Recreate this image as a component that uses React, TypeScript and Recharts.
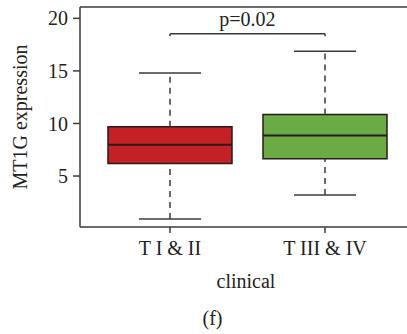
import {
  ComposedChart,
  XAxis,
  YAxis,
  Scatter,
  ReferenceArea,
  ReferenceLine,
} from 'recharts';

const groups = ['T I & II', 'T III & IV'];
const groupPos = [1, 2];
const lowerWhisker = [0.92, 3.2];
const q1 = [6.2, 6.64];
const median = [7.97, 8.86];
const q3 = [9.68, 10.85];
const upperWhisker = [14.8, 16.86];
const boxColors = ['#C42127', '#6AAB46'];
const yTicks = [5, 10, 15, 20];
const pLabel = 'p=0.02';
const bracketY = 18.54;

const Y_MIN = 0.15;
const Y_MAX = 21.08;
const BOX_HALF = 0.4;
const CAP_HALF = 0.2;
const FONT = '"Liberation Serif", "Times New Roman", serif';
const INK = '#3a3a3a';
const BOX_LINE = '#2a1a1a';

const points = groupPos.map((x, i) => ({ x, y: median[i] }));

export default function App() {
  return (
    <div
      style={{
        position: 'absolute',
        left: 0,
        top: 0,
        width: 407,
        height: 334,
        overflow: 'hidden',
        background: '#fff',
        fontFamily: FONT,
      }}
    >
      <ComposedChart
        width={420}
        height={334}
        margin={{ top: 7, right: 8, left: 0, bottom: 0 }}
        style={{ fontFamily: FONT }}
      >
        <XAxis
          dataKey="x"
          type="number"
          domain={[0.4194, 2.5613]}
          allowDataOverflow
          ticks={groupPos}
          tickFormatter={(v) => groups[v - 1]}
          height={107}
          tickSize={6}
          tickMargin={8}
          stroke={INK}
          strokeWidth={1.5}
          tick={{ fill: '#222', fontSize: 20, fontFamily: FONT }}
          label={{
            value: 'clinical',
            position: 'insideBottom',
            offset: 46,
            fill: '#222',
            fontSize: 20,
            fontFamily: FONT,
          }}
        />
        <YAxis
          dataKey="y"
          type="number"
          domain={[Y_MIN, Y_MAX]}
          allowDataOverflow
          ticks={yTicks}
          width={80}
          tickSize={7}
          tickMargin={5}
          stroke={INK}
          strokeWidth={1.5}
          tick={{ fill: '#222', fontSize: 20, fontFamily: FONT }}
          label={({ viewBox }: any) => {
            const cy = viewBox.y + viewBox.height / 2;
            return (
              <text
                x={27}
                y={cy}
                transform={`rotate(-90 27 ${cy})`}
                textAnchor="middle"
                fill="#222"
                fontSize={20}
                fontFamily={FONT}
              >
                MT1G expression
              </text>
            );
          }}
        />
        <ReferenceLine y={Y_MAX} stroke={INK} strokeWidth={1.5} ifOverflow="extendDomain" />

        {groupPos.map((x, i) => (
          <ReferenceArea
            key={`box-${i}`}
            x1={x - BOX_HALF}
            x2={x + BOX_HALF}
            y1={q1[i]}
            y2={q3[i]}
            fill={boxColors[i]}
            fillOpacity={1}
            stroke={BOX_LINE}
            strokeWidth={1.5}
          />
        ))}

        {groupPos.map((x, i) => (
          <ReferenceLine
            key={`uw-${i}`}
            segment={[
              { x, y: q3[i] },
              { x, y: upperWhisker[i] },
            ]}
            stroke={INK}
            strokeWidth={1.5}
            strokeDasharray="6 5"
          />
        ))}
        {groupPos.map((x, i) => (
          <ReferenceLine
            key={`lw-${i}`}
            segment={[
              { x, y: lowerWhisker[i] },
              { x, y: q1[i] },
            ]}
            stroke={INK}
            strokeWidth={1.5}
            strokeDasharray="6 5"
          />
        ))}
        {groupPos.map((x, i) => (
          <ReferenceLine
            key={`uc-${i}`}
            segment={[
              { x: x - CAP_HALF, y: upperWhisker[i] },
              { x: x + CAP_HALF, y: upperWhisker[i] },
            ]}
            stroke={INK}
            strokeWidth={1.5}
          />
        ))}
        {groupPos.map((x, i) => (
          <ReferenceLine
            key={`lc-${i}`}
            segment={[
              { x: x - CAP_HALF, y: lowerWhisker[i] },
              { x: x + CAP_HALF, y: lowerWhisker[i] },
            ]}
            stroke={INK}
            strokeWidth={1.5}
          />
        ))}
        {groupPos.map((x, i) => (
          <ReferenceLine
            key={`med-${i}`}
            segment={[
              { x: x - BOX_HALF, y: median[i] },
              { x: x + BOX_HALF, y: median[i] },
            ]}
            stroke={BOX_LINE}
            strokeWidth={2}
          />
        ))}

        {/* significance bracket */}
        <ReferenceLine
          segment={[
            { x: groupPos[0], y: bracketY },
            { x: groupPos[1], y: bracketY },
          ]}
          stroke={INK}
          strokeWidth={1.5}
          label={{
            value: pLabel,
            position: 'top',
            offset: 8,
            fill: '#222',
            fontSize: 20,
            fontFamily: FONT,
          }}
        />
        {groupPos.map((x, i) => (
          <ReferenceLine
            key={`bt-${i}`}
            segment={[
              { x, y: bracketY },
              { x, y: bracketY - 0.25 },
            ]}
            stroke={INK}
            strokeWidth={1.5}
          />
        ))}

        <Scatter data={points} shape={() => <g />} isAnimationActive={false} />
      </ComposedChart>
      <div
        style={{
          position: 'absolute',
          left: 0,
          top: 308,
          width: 425,
          textAlign: 'center',
          fontSize: 20,
          lineHeight: '20px',
          color: '#222',
          fontFamily: FONT,
        }}
      >
        (f)
      </div>
    </div>
  );
}
